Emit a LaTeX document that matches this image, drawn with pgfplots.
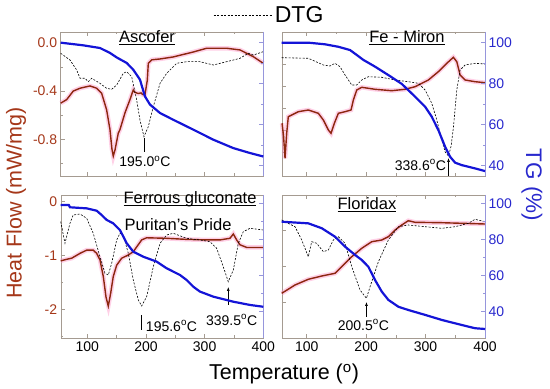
\documentclass[border=0pt]{standalone}
\usepackage{fontspec}
\setmainfont{Liberation Sans}
\usepackage{pgfplots}
\pgfplotsset{compat=1.18}
\usetikzlibrary{arrows.meta}
\definecolor{hf}{RGB}{140,38,15}
\definecolor{hflab}{RGB}{165,55,25}
\definecolor{halo}{RGB}{255,150,200}
\definecolor{tg}{RGB}{20,20,215}
\definecolor{tglab}{RGB}{40,40,205}
\definecolor{frm}{RGB}{165,155,145}
\definecolor{tgfrm}{RGB}{150,150,220}
\newcommand{\ul}[1]{\underline{\smash{#1}}}
\tikzset{
  hfhalo/.style={halo, line width=4.5pt, opacity=0.45},
  hfline/.style={hf, line width=1.4pt},
  tgline/.style={tg, line width=2.2pt},
  dtgline/.style={black, line width=0.6pt, dash pattern=on 2pt off 1.5pt},
  ann/.style={font=\fontsize{14}{16}\selectfont, inner sep=1pt},
  arr/.style={black, line width=0.6pt, -{Latex[length=4pt,width=3pt]}},
}
\pgfplotsset{
  common/.style={scale only axis, anchor=south west, clip=false,
    tick label style={font=\fontsize{14}{16}\selectfont},
    major tick length=4pt, minor tick length=2.5pt, tick align=inside},
  posTL/.style={at={(60.7pt,213pt)}, width=202.6pt, height=144pt, xmin=54.7, xmax=400},
  posTR/.style={at={(281.7pt,213pt)}, width=203.3pt, height=144pt, xmin=57.9, xmax=400},
  posBL/.style={at={(60.7pt,51pt)}, width=202.6pt, height=143pt, xmin=54.7, xmax=400},
  posBR/.style={at={(281.7pt,51pt)}, width=203.3pt, height=143pt, xmin=57.9, xmax=400},
  hfaxis/.style={common, axis line style={frm},
     xtick={100,200,300,400}, minor xtick={150,250,350},
     xtick pos=both, xticklabel pos=lower, ytick pos=left,
     tick style={frm, line width=0.6pt},
     yticklabel style={text=hflab}},
  tgaxis/.style={common, hide x axis, axis y line*=right, axis line style={tgfrm},
     ytick={40,60,80,100}, minor ytick={50,70,90},
     tick style={tgfrm, line width=0.6pt}, tick align=inside,
     yticklabel style={text=tglab}},
  dtgaxis/.style={common, hide axis},
}
\begin{document}
\begin{tikzpicture}
\useasboundingbox (0pt,0pt) rectangle (550pt,389pt);
% ================= TOP LEFT: Ascofer =================
\begin{axis}[hfaxis, posTL, ymin=-1.105, ymax=0.091,
  ytick={0,-0.4,-0.8}, yticklabels={0.0,-0.4,-0.8}, minor ytick={-0.2,-0.6,-1.0},
  xticklabels={}]
\addplot[hfhalo] coordinates {(54.7,-0.50)(65,-0.47)(76,-0.40)(87.6,-0.376)(104.6,-0.357)(116,-0.376)(124.5,-0.418)(133,-0.556)(138.7,-0.72)(142,-0.88)(144.3,-0.94)(147.2,-0.89)(152.8,-0.75)(155.7,-0.72)(164.3,-0.58)(172.8,-0.47)(178.4,-0.39)(181,-0.41)(187,-0.42)(191.5,-0.415)(195,-0.43)(198.3,-0.43)(202.3,-0.31)(204,-0.17)(209.8,-0.14)(224,-0.133)(246.6,-0.116)(280.7,-0.075)(303.5,-0.044)(337.6,-0.044)(360.3,-0.058)(383,-0.114)(400,-0.169)};
\addplot[hfline] coordinates {(54.7,-0.50)(65,-0.47)(76,-0.40)(87.6,-0.376)(104.6,-0.357)(116,-0.376)(124.5,-0.418)(133,-0.556)(138.7,-0.72)(142,-0.88)(144.3,-0.94)(147.2,-0.89)(152.8,-0.75)(155.7,-0.72)(164.3,-0.58)(172.8,-0.47)(178.4,-0.39)(181,-0.41)(187,-0.42)(191.5,-0.415)(195,-0.43)(198.3,-0.43)(202.3,-0.31)(204,-0.17)(209.8,-0.14)(224,-0.133)(246.6,-0.116)(280.7,-0.075)(303.5,-0.044)(337.6,-0.044)(360.3,-0.058)(383,-0.114)(400,-0.169)};
\end{axis}
\begin{axis}[dtgaxis, posTL, ymin=0, ymax=144,
  legend style={at={(0.752,1.118)}, anchor=west, draw=none, fill=none, inner sep=0pt,
    font=\fontsize{23}{26}\selectfont},
  legend image code/.code={\draw[black, line width=0.6pt, dash pattern=on 2pt off 1.5pt] (0pt,0pt) -- (59pt,0pt);}]
\addplot[dtgline] coordinates {(54.7,122.7)(70.5,116)(82,106)(87.6,97.7)(96,97.7)(101.7,94.3)(107.5,97.7)(121.6,92.7)(133,87.7)(141.6,86.7)(150.1,91)(161.4,102.7)(167.2,104.3)(175.7,99.3)(184.2,76)(189.8,56)(196.6,39.3)(204,49.3)(212.5,69.3)(224,92.7)(235.3,102.7)(252.4,112.7)(269.4,114.3)(292.1,114.3)(314.8,111)(337.6,114.3)(360.3,117.7)(374.4,122.7)(383,121)(400,124.3)};
\addlegendentry{DTG}
\draw[black, line width=0.6pt] (axis cs:196.6,24) -- (axis cs:196.6,38);
\node[ann] at (axis cs:198.3,14.3) {195.0\textsuperscript{o}C};
\end{axis}
\begin{axis}[tgaxis, posTL, ymin=35.0, ymax=105.2, yticklabels={}]
\addplot[tgline] coordinates {(54.7,100)(93.2,98.7)(121.6,97.4)(138.7,95.0)(150.1,92.8)(167.2,90.1)(178.4,86.8)(189.8,82.0)(198.3,73.8)(206.9,69.8)(224,65.7)(246.6,62.4)(280.7,57.6)(314.8,52.7)(348.9,48.6)(377.3,46.2)(400,44.5)};
\end{axis}
% ================= TOP RIGHT: Fe - Miron =================
\begin{axis}[hfaxis, posTR, ymin=0, ymax=144,
  ytick={24,46,68,90,112,134}, yticklabels={}, xticklabels={}]
\addplot[hfhalo] coordinates {(58.5,52.7)(61,40)(63.5,17.7)(66.3,42.7)(69,59.3)(85.9,64.3)(102.7,66)(119.5,62.7)(128,56)(136.4,46)(140.9,42.7)(146.5,52.7)(153.2,62.7)(164.5,64.3)(174.6,66)(178.5,76)(184.2,86)(192.6,88.7)(215,86.7)(243.1,85.3)(265.5,86.7)(282.3,89.3)(304.7,96)(321.5,104.3)(335.7,112.7)(346.8,118.7)(352.5,114.3)(358.1,101)(366.5,96)(383.3,94.3)(400,93.3)};
\addplot[hfline] coordinates {(58.5,52.7)(61,40)(63.5,17.7)(66.3,42.7)(69,59.3)(85.9,64.3)(102.7,66)(119.5,62.7)(128,56)(136.4,46)(140.9,42.7)(146.5,52.7)(153.2,62.7)(164.5,64.3)(174.6,66)(178.5,76)(184.2,86)(192.6,88.7)(215,86.7)(243.1,85.3)(265.5,86.7)(282.3,89.3)(304.7,96)(321.5,104.3)(335.7,112.7)(346.8,118.7)(352.5,114.3)(358.1,101)(366.5,96)(383.3,94.3)(400,93.3)};
\end{axis}
\begin{axis}[dtgaxis, posTR, ymin=0, ymax=144]
\addplot[dtgline] coordinates {(57.9,118.3)(102.7,117.7)(128,111)(139.2,110)(147.6,112.7)(156,109.3)(164.5,101)(175.8,91)(184.2,91)(192.6,96)(203.7,99.3)(226.3,98.7)(248.7,96)(271,94.3)(287.9,92.7)(299.2,86)(310.4,72.7)(318.9,56)(327.3,36)(333,24)(338.6,20)(343,30)(347,49.3)(352.5,86)(358.1,106)(366.5,111)(383.3,112.7)(400,112)};
\draw[arr] (axis cs:338.6,0) -- (axis cs:338.6,18);
\node[ann, anchor=east] at (axis cs:336.2,11) {338.6\textsuperscript{o}C};
\end{axis}
\begin{axis}[tgaxis, posTR, ymin=35.0, ymax=105.2, yticklabels={40,60,80,100}]
\addplot[tgline] coordinates {(57.9,100)(102.7,100)(130.8,99.2)(153.2,98.0)(172.9,96.4)(184.2,94.0)(195.3,91.6)(215,88.3)(237.4,84.2)(259.9,79.9)(282.3,73.7)(299.2,68.8)(310.4,63.9)(321.5,57.4)(332.8,49.3)(341.2,44.4)(349.7,41.5)(360.9,40.3)(383.3,38.7)(400,37.4)};
\end{axis}
% ================= BOTTOM LEFT: Ferrous gluconate =================
\begin{axis}[hfaxis, posBL, ymin=-2.533, ymax=0.125,
  ytick={0,-1,-2}, yticklabels={0,-1,-2}, minor ytick={-0.5,-1.5,-2.5},
  xticklabels={100,200,300,400}]
\addplot[hfhalo] coordinates {(54.7,-1.10)(64.9,-1.07)(73.4,-1.05)(87.6,-0.96)(99,-0.90)(110.2,-0.90)(116,-0.96)(121.6,-1.08)(127.3,-1.39)(131.9,-1.77)(135.8,-1.94)(139.9,-1.70)(144.3,-1.39)(150.1,-1.18)(158.6,-1.05)(169.9,-0.99)(178.4,-0.93)(184.2,-0.84)(192.7,-0.71)(201.2,-0.67)(235.3,-0.68)(269.4,-0.70)(303.5,-0.71)(326.2,-0.71)(343.2,-0.68)(348.9,-0.60)(354.6,-0.71)(360.3,-0.80)(371.7,-0.85)(400,-0.85)};
\addplot[hfline] coordinates {(54.7,-1.10)(64.9,-1.07)(73.4,-1.05)(87.6,-0.96)(99,-0.90)(110.2,-0.90)(116,-0.96)(121.6,-1.08)(127.3,-1.39)(131.9,-1.77)(135.8,-1.94)(139.9,-1.70)(144.3,-1.39)(150.1,-1.18)(158.6,-1.05)(169.9,-0.99)(178.4,-0.93)(184.2,-0.84)(192.7,-0.71)(201.2,-0.67)(235.3,-0.68)(269.4,-0.70)(303.5,-0.71)(326.2,-0.71)(343.2,-0.68)(348.9,-0.60)(354.6,-0.71)(360.3,-0.80)(371.7,-0.85)(400,-0.85)};
\end{axis}
\begin{axis}[dtgaxis, posBL, ymin=0, ymax=143]
\addplot[dtgline] coordinates {(54.7,116.3)(62,94.7)(70.5,114.7)(76,123)(87.6,124)(99,119.7)(110.2,104.7)(121.6,81.3)(130.2,64.7)(135.8,63)(141.6,74.7)(150.1,98)(155.7,104.7)(161.4,103)(169.9,84.7)(178.4,58)(187,38)(192.7,32)(201.2,41.3)(212.5,71.3)(224,94.7)(235.3,103)(246.6,104.7)(269.4,99.7)(292,98)(309.1,96.3)(320.5,89.7)(331.8,71.3)(340.3,56.3)(348.9,68)(357.4,94.7)(365.9,106.3)(377.3,109.7)(400,108)};
\draw[black, line width=0.6pt] (axis cs:192.7,8) -- (axis cs:192.7,23);
\node[ann, anchor=west] at (axis cs:198,12) {195.6\textsuperscript{o}C};
\draw[arr] (axis cs:340.3,33) -- (axis cs:340.3,51);
\node[ann] at (axis cs:346,18) {339.5\textsuperscript{o}C};
\end{axis}
\begin{axis}[tgaxis, posBL, ymin=25.4, ymax=104.6, yticklabels={}]
\addplot[tgline] coordinates {(54.7,99.1)(68.4,99.1)(70.5,97.8)(99,97.2)(116,95.9)(124.5,93.5)(133,90.8)(144.3,88.9)(155.7,85.2)(167.2,77.9)(178.4,73.2)(195.5,70.4)(218.2,67.7)(235.3,64.0)(258,60.3)(269.4,57.5)(280.7,53.8)(292,51.1)(314.8,48.3)(348.9,45.5)(377.3,43.7)(400,42.7)};
\end{axis}
% ================= BOTTOM RIGHT: Floridax =================
\begin{axis}[hfaxis, posBR, ymin=0, ymax=143,
  ytick={36,72,108}, yticklabels={}, xticklabels={100,200,300,400}]
\addplot[hfhalo] coordinates {(57.9,44.7)(80.3,53)(102.7,58.7)(125.3,62)(147.6,64.7)(158.9,71.3)(175.8,81.3)(192.6,89.7)(209.4,96.3)(226.3,98)(237.4,101.3)(248.7,108)(259.9,113)(271,117.3)(282.3,115.7)(327.3,115.3)(360.9,114.7)(400,114)};
\addplot[hfline] coordinates {(57.9,44.7)(80.3,53)(102.7,58.7)(125.3,62)(147.6,64.7)(158.9,71.3)(175.8,81.3)(192.6,89.7)(209.4,96.3)(226.3,98)(237.4,101.3)(248.7,108)(259.9,113)(271,117.3)(282.3,115.7)(327.3,115.3)(360.9,114.7)(400,114)};
\end{axis}
\begin{axis}[dtgaxis, posBR, ymin=0, ymax=143]
\addplot[dtgline] coordinates {(57.9,118)(80.3,111.3)(91.6,98)(102.7,81.3)(108.4,96.3)(116.8,94.7)(128,86.3)(136.4,88)(144.8,98)(153.2,101.3)(164.5,94.7)(175.8,71.3)(189.7,48)(200.5,39.7)(206.6,51.3)(220.6,76.3)(237.4,98)(254.3,111.3)(271,113)(299.2,111.3)(327.3,109.7)(349.7,111.3)(372.1,114.7)(383.3,118.7)(400,116.3)};
\draw[arr] (axis cs:200.5,21) -- (axis cs:200.5,36);
\node[ann] at (axis cs:195.3,13) {200.5\textsuperscript{o}C};
\end{axis}
\begin{axis}[tgaxis, posBR, ymin=25.4, ymax=104.6, yticklabels={40,60,80,100}]
\addplot[tgline] coordinates {(57.9,89.8)(102.7,88.9)(125.3,86.2)(147.6,81.5)(164.5,76.0)(181.4,71.4)(192.6,68.6)(203.7,64.9)(215,57.5)(226.3,51.1)(237.4,46.5)(254.3,42.7)(271,40.9)(299.2,38.2)(327.3,35.4)(360.9,32.6)(383.3,30.8)(400,30.4)};
\end{axis}
% ================= titles and labels =================
\node[font=\fontsize{16.5}{19}\selectfont] at (147pt,345pt) {\ul{Ascofer}};
\node[font=\fontsize{16.5}{19}\selectfont] at (407pt,345pt) {\ul{Fe - Miron}};
\node[font=\fontsize{16.5}{19}\selectfont] at (190pt,184pt) {\ul{Ferrous gluconate}};
\node[font=\fontsize{16.5}{19}\selectfont] at (178pt,164pt) {Puritan's Pride};
\node[font=\fontsize{16.5}{19}\selectfont] at (367pt,178pt) {\ul{Floridax}};
\node[rotate=90, text=hflab, font=\fontsize{21.5}{24}\selectfont] at (16pt,186pt) {Heat Flow (mW/mg)};
\node[rotate=-90, text=tglab, font=\fontsize{22.5}{25}\selectfont] at (532pt,204pt) {TG (\%)};
\node[font=\fontsize{21.5}{24}\selectfont] at (284pt,15pt) {Temperature (\textsuperscript{o})};
\end{tikzpicture}
\end{document}
